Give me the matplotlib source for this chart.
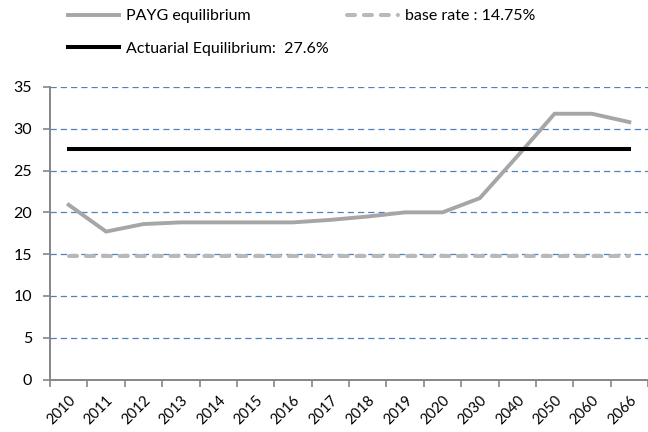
import matplotlib
matplotlib.use("Agg")
import matplotlib.pyplot as plt
import matplotlib.transforms as mtransforms
import numpy as np

years = ["2010", "2011", "2012", "2013", "2014", "2015", "2016", "2017",
         "2018", "2019", "2020", "2030", "2040", "2050", "2060", "2066"]
payg = [20.9, 17.7, 18.6, 18.8, 18.8, 18.8, 18.8, 19.1,
        19.5, 20.0, 20.0, 21.7, 26.7, 31.8, 31.8, 30.8]
base_rate = 14.75
actuarial = 27.6
y_ticks = [0, 5, 10, 15, 20, 25, 30, 35]

plt.rcParams["font.family"] = ["Lato", "DejaVu Sans"]

fig = plt.figure(figsize=(6.48, 4.32), dpi=100)
ax = fig.add_axes([50 / 648, 52.5 / 432, 1 - 50 / 648, 292.5 / 432])

x = np.arange(len(years))
payg_line, = ax.plot(x, payg, color="#a6a6a6", lw=2.8, solid_joinstyle="miter",
                     zorder=3)
act_line, = ax.plot(x, [actuarial] * len(x), color="black", lw=2.9, zorder=3)
base_line, = ax.plot(x, [base_rate] * len(x), color="#b9b9b9", lw=2.9,
                     dashes=(2.0, 2.2), dash_capstyle="round", zorder=3)

ax.set_ylim(0, 35)
ax.set_yticks(y_ticks)
ax.set_xlim(-0.5, 15.18)
ax.set_xticks(x)
ax.set_xticklabels(years, rotation=45, ha="right", va="top",
                   rotation_mode="anchor", fontsize=10.5)
# nudge the rotated labels a little left, like excel does
shift = mtransforms.ScaledTranslation(-2 / 100, 0, fig.dpi_scale_trans)
for lbl in ax.get_xticklabels():
    lbl.set_transform(lbl.get_transform() + shift)
ax.set_xticks(np.arange(-0.5, 15.6, 1), minor=True)
ax.tick_params(axis="x", which="major", length=0, pad=10)
ax.tick_params(axis="x", which="minor", length=5, color="#868686", width=1.2)
ax.tick_params(axis="y", length=5, color="#868686", width=1.2,
               labelsize=11.5, pad=8)

for v in y_ticks[1:]:
    ax.axhline(v, color="#4f81bd", lw=0.9, dashes=(5, 3.2), zorder=1)

for s in ["top", "right"]:
    ax.spines[s].set_visible(False)
for s in ["left", "bottom"]:
    ax.spines[s].set_color("#868686")
    ax.spines[s].set_linewidth(1.4)

leg_kw = dict(frameon=False, fontsize=11.5, handlelength=3.2,
              handletextpad=0.45, borderpad=0, borderaxespad=0,
              bbox_transform=fig.transFigure, loc="upper left")
leg1 = ax.legend([payg_line, act_line],
                 ["PAYG equilibrium", "Actuarial Equilibrium:  27.6%"],
                 bbox_to_anchor=(68 / 648, 1 - 9 / 432), labelspacing=1.15,
                 **leg_kw)
ax.add_artist(leg1)
ax.legend([base_line], ["base rate : 14.75%"],
          bbox_to_anchor=(347 / 648, 1 - 9 / 432), **leg_kw)

fig.savefig("out.png", dpi=100)
